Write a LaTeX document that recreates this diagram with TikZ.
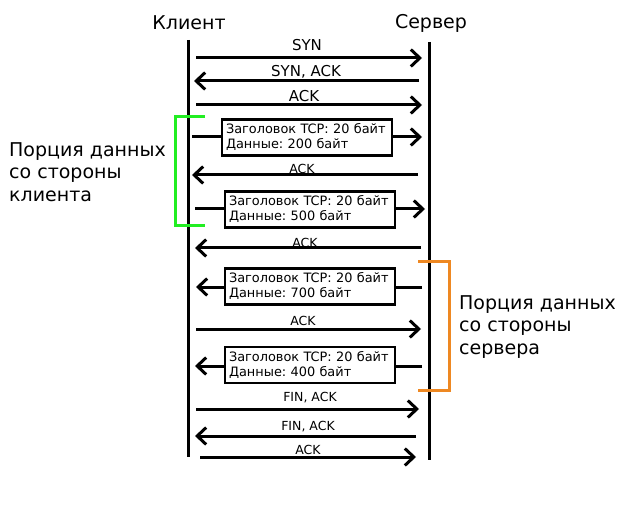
\documentclass[tikz,border=0pt]{standalone}
\usepackage{fontspec}
\setmainfont{DejaVu Sans}
\frenchspacing
\usetikzlibrary{arrows.meta}
\begin{document}
\begin{tikzpicture}[x=1pt,y=-1pt,
  life/.style={line width=3pt},
  msg/.style={line width=3pt,-{Straight Barb[length=9pt,width=17pt]}},
  seg/.style={line width=3pt},
  lbl/.style={font=\fontsize{15}{18}\selectfont,inner sep=0pt},
  slbl/.style={font=\fontsize{12.5}{14}\selectfont,inner sep=0pt},
  head/.style={font=\fontsize{19}{22}\selectfont,inner sep=0pt},
  side/.style={font=\fontsize{19}{22.5}\selectfont,inner sep=0pt,align=left,anchor=west},
  pkt/.style={draw,line width=2.8pt,align=left,font=\fontsize{12.9}{15}\selectfont,
    text width=162pt,inner xsep=4pt,inner ysep=0pt,minimum height=36pt},
  brk/.style={line width=3pt}
]
\useasboundingbox (0,0) rectangle (640,505);
\definecolor{brgreen}{RGB}{34,238,34}
\definecolor{brorange}{RGB}{238,136,34}

\node[head] (cl) at (189,23) {Клиент};
\node[head] (sl) at (431,23) {Сервер};

\coordinate (c0) at (188,40); \coordinate (c1) at (188,457);
\coordinate (s0) at (429,42); \coordinate (s1) at (429,460);
\draw[life] (c0) -- (c1);
\draw[life] (s0) -- (s1);

% SYN
\coordinate (a1) at (196,58); \coordinate (b1) at (422,58);
\draw[msg] (a1) -- (b1);
\node[lbl] (t1) at (307,45) {SYN};
% SYN, ACK
\coordinate (a2) at (419,81); \coordinate (b2) at (194,81);
\draw[msg] (a2) -- (b2);
\node[lbl] (t2) at (306,72) {SYN, ACK};
% ACK
\coordinate (a3) at (196,105); \coordinate (b3) at (422,105);
\draw[msg] (a3) -- (b3);
\node[lbl] (t3) at (304,96) {ACK};

% packet 1
\node[pkt] (p1) at (307,137.5) {Заголовок TCP: 20 байт\\Данные: 200 байт};
\coordinate (a4) at (192,137); \coordinate (b4) at (422,137);
\draw[seg] (a4) -- (a4 -| p1.west);
\draw[msg] (b4 -| p1.east) -- (b4);

% ACK
\coordinate (a5) at (418,175); \coordinate (b5) at (192,175);
\draw[msg] (a5) -- (b5);
\node[slbl] (t5) at (302,169) {ACK};

% packet 2
\node[pkt] (p2) at (310,209.5) {Заголовок TCP: 20 байт\\Данные: 500 байт};
\coordinate (a6) at (195,209); \coordinate (b6) at (425,209);
\draw[seg] (a6) -- (a6 -| p2.west);
\draw[msg] (b6 -| p2.east) -- (b6);

% ACK
\coordinate (a7) at (421,248); \coordinate (b7) at (195,248);
\draw[msg] (a7) -- (b7);
\node[slbl] (t7) at (305,243) {ACK};

% packet 3
\node[pkt] (p3) at (310,286.5) {Заголовок TCP: 20 байт\\Данные: 700 байт};
\coordinate (a8) at (422,287); \coordinate (b8) at (196,287);
\draw[seg] (a8) -- (a8 -| p3.east);
\draw[msg] (b8 -| p3.west) -- (b8);

% ACK
\coordinate (a9) at (196,329); \coordinate (b9) at (421,329);
\draw[msg] (a9) -- (b9);
\node[slbl] (t9) at (303,321) {ACK};

% packet 4
\node[pkt] (p4) at (310,365) {Заголовок TCP: 20 байт\\Данные: 400 байт};
\coordinate (a10) at (422,366); \coordinate (b10) at (195,366);
\draw[seg] (a10) -- (a10 -| p4.east);
\draw[msg] (b10 -| p4.west) -- (b10);

% FIN, ACK
\coordinate (a11) at (196,409); \coordinate (b11) at (419,409);
\draw[msg] (a11) -- (b11);
\node[slbl] (t11) at (310,398) {FIN, ACK};
% FIN, ACK back
\coordinate (a12) at (416,436); \coordinate (b12) at (195,436);
\draw[msg] (a12) -- (b12);
\node[slbl] (t12) at (308,427) {FIN, ACK};
% ACK
\coordinate (a13) at (200,457); \coordinate (b13) at (416,457);
\draw[msg] (a13) -- (b13);
\node[slbl] (t13) at (308,450) {ACK};

% brackets
\coordinate (g0) at (205,117); \coordinate (g1) at (175,117);
\coordinate (g2) at (175,226); \coordinate (g3) at (205,226);
\draw[brk,brgreen] (g0) -- (g1) -- (g2) -- (g3);
\coordinate (o0) at (418,262); \coordinate (o1) at (449,262);
\coordinate (o2) at (449,390); \coordinate (o3) at (418,390);
\draw[brk,brorange] (o0) -- (o1) -- (o2) -- (o3);

\node[side] (cs) at (9,172) {Порция данных\\со стороны\\клиента};
\node[side] (ss) at (459,327) {Порция данных\\со стороны\\сервера};
\end{tikzpicture}
\end{document}
